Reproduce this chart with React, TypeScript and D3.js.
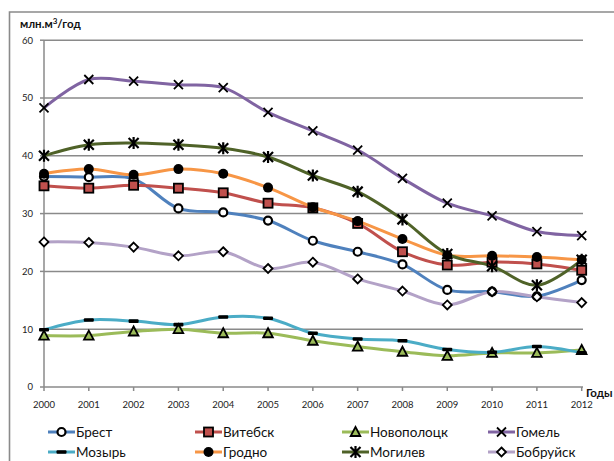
import React from "react";
import * as d3 from "d3";

const years = [2000, 2001, 2002, 2003, 2004, 2005, 2006, 2007, 2008, 2009, 2010, 2011, 2012];
const yTicks = [0, 10, 20, 30, 40, 50, 60];

const brest = [36.4, 36.3, 36.0, 30.9, 30.2, 28.8, 25.3, 23.4, 21.2, 16.8, 16.5, 15.7, 18.5];
const vitebsk = [34.8, 34.4, 34.9, 34.4, 33.6, 31.8, 31.0, 28.3, 23.4, 21.1, 21.6, 21.3, 20.2];
const novopolotsk = [8.9, 8.9, 9.6, 10.0, 9.3, 9.3, 8.0, 7.0, 6.1, 5.4, 5.9, 5.9, 6.4];
const gomel = [48.3, 53.2, 52.9, 52.3, 51.8, 47.5, 44.3, 41.0, 36.1, 31.8, 29.6, 26.9, 26.2];
const mozyr = [9.9, 11.6, 11.4, 10.8, 12.1, 11.9, 9.3, 8.3, 8.0, 6.5, 6.0, 7.0, 5.9];
const grodno = [36.9, 37.7, 36.7, 37.7, 36.9, 34.5, 31.1, 28.7, 25.6, 22.8, 22.7, 22.5, 22.0];
const mogilev = [40.0, 41.9, 42.2, 41.9, 41.3, 39.8, 36.6, 33.8, 29.0, 23.0, 20.9, 17.6, 22.0];
const bobruisk = [25.1, 25.0, 24.2, 22.7, 23.4, 20.5, 21.6, 18.7, 16.6, 14.2, 16.5, 15.6, 14.6];

type Marker = "circleOpen" | "square" | "triangle" | "x" | "dash" | "circle" | "star" | "diamond";

const series: { name: string; values: number[]; color: string; marker: Marker }[] = [
  { name: "Брест", values: brest, color: "#4F81BD", marker: "circleOpen" },
  { name: "Витебск", values: vitebsk, color: "#C0504D", marker: "square" },
  { name: "Новополоцк", values: novopolotsk, color: "#9BBB59", marker: "triangle" },
  { name: "Гомель", values: gomel, color: "#8064A2", marker: "x" },
  { name: "Мозырь", values: mozyr, color: "#4BACC6", marker: "dash" },
  { name: "Гродно", values: grodno, color: "#F79646", marker: "circle" },
  { name: "Могилев", values: mogilev, color: "#4F6228", marker: "star" },
  { name: "Бобруйск", values: bobruisk, color: "#B3A2C7", marker: "diamond" },
];

const FONT = "Lato, 'Open Sans', 'Liberation Sans', sans-serif";
const AXIS = "#8a8a8a";

const x = d3.scaleLinear().domain([2000, 2012]).range([44, 581.7]);
const y = d3.scaleLinear().domain([0, 60]).range([387, 40.2]);

function MarkerShape({ type, cx, cy, color }: { type: Marker; cx: number; cy: number; color: string }) {
  const k = "#000";
  switch (type) {
    case "circleOpen":
      return <circle cx={cx} cy={cy} r={4} fill="#fff" stroke={k} strokeWidth={2.2} />;
    case "circle":
      return <circle cx={cx} cy={cy} r={5} fill={k} />;
    case "square":
      return <rect x={cx - 4.5} y={cy - 4.5} width={9} height={9} fill={color} stroke={k} strokeWidth={1.8} />;
    case "triangle":
      return (
        <path
          d={`M${cx},${cy - 5} L${cx + 4.8},${cy + 4} L${cx - 4.8},${cy + 4} Z`}
          fill={color}
          stroke={k}
          strokeWidth={1.8}
        />
      );
    case "diamond":
      return (
        <path
          d={`M${cx},${cy - 4.5} L${cx + 4.5},${cy} L${cx},${cy + 4.5} L${cx - 4.5},${cy} Z`}
          fill="#fff"
          stroke={k}
          strokeWidth={1.8}
        />
      );
    case "x":
      return (
        <path
          d={`M${cx - 4.5},${cy - 4.5} L${cx + 4.5},${cy + 4.5} M${cx + 4.5},${cy - 4.5} L${cx - 4.5},${cy + 4.5}`}
          stroke={k}
          strokeWidth={1.8}
        />
      );
    case "star":
      return (
        <path
          d={`M${cx - 5},${cy - 5} L${cx + 5},${cy + 5} M${cx + 5},${cy - 5} L${cx - 5},${cy + 5} M${cx},${cy - 6} L${cx},${cy + 6}`}
          stroke={k}
          strokeWidth={2.2}
        />
      );
    case "dash":
      return <rect x={cx - 5} y={cy - 1.8} width={10} height={3.6} fill={k} rx={1} />;
  }
}

export default function App() {
  const line = d3
    .line<number>()
    .x((_, i) => x(years[i]))
    .y((v) => y(v))
    .curve(d3.curveCatmullRom.alpha(0.5));

  const legendCols = [48, 195, 342, 488];
  const legendRows = [432, 452];

  return (
    <svg
      width={614}
      height={461}
      style={{ position: "absolute", left: 0, top: 0, background: "#fff" }}
      fontFamily={FONT}
    >
      {/* chart frame */}
      <path d="M9.5,470 L9.5,12 L620,12" fill="none" stroke={AXIS} strokeWidth={1.6} />

      {/* gridlines */}
      {yTicks
        .filter((t) => t > 0)
        .map((t) => (
          <line key={t} x1={x(2000)} x2={583} y1={y(t)} y2={y(t)} stroke={AXIS} strokeWidth={1.5} />
        ))}

      {/* axes */}
      <line x1={x(2000)} x2={x(2000)} y1={y(60)} y2={y(0)} stroke={AXIS} strokeWidth={1.5} />
      <line x1={x(2000)} x2={583} y1={y(0)} y2={y(0)} stroke={AXIS} strokeWidth={1.5} />
      {yTicks.map((t) => (
        <g key={t}>
          <line x1={x(2000) - 4} x2={x(2000)} y1={y(t)} y2={y(t)} stroke={AXIS} strokeWidth={1.5} />
          <text x={33} y={y(t)} dy="0.35em" textAnchor="end" fontSize={9.5} fill="#222">
            {t}
          </text>
        </g>
      ))}
      {years.map((yr) => (
        <g key={yr}>
          <line x1={x(yr)} x2={x(yr)} y1={y(0)} y2={y(0) + 4} stroke={AXIS} strokeWidth={1.5} />
          <text x={x(yr)} y={405} dy="0.35em" textAnchor="middle" fontSize={9.5} fill="#222">
            {yr}
          </text>
        </g>
      ))}

      {/* axis titles */}
      <text x={20} y={28} fontSize={11.5} fontWeight="bold" fill="#111">
        млн.м<tspan dy={-4} fontSize={8}>3</tspan>
        <tspan dy={4}>/год</tspan>
      </text>
      <text x={586} y={393} dy="0.35em" fontSize={11.5} fontWeight="bold" fill="#111">
        Годы
      </text>

      {/* series lines */}
      {series.map((s) => (
        <path key={s.name} d={line(s.values) || ""} fill="none" stroke={s.color} strokeWidth={3} strokeLinejoin="round" />
      ))}

      {/* series markers */}
      {series.map((s) => (
        <g key={s.name + "-m"}>
          {s.values.map((v, i) => (
            <MarkerShape key={i} type={s.marker} cx={x(years[i])} cy={y(v)} color={s.color} />
          ))}
        </g>
      ))}

      {/* legend */}
      {series.map((s, i) => {
        const lx = legendCols[i % 4];
        const ly = legendRows[Math.floor(i / 4)];
        return (
          <g key={s.name + "-l"}>
            <line x1={lx} x2={lx + 27} y1={ly} y2={ly} stroke={s.color} strokeWidth={3} />
            <MarkerShape type={s.marker} cx={lx + 13.5} cy={ly} color={s.color} />
            <text x={lx + 28} y={ly} dy="0.35em" fontSize={13.5} fill="#111">
              {s.name}
            </text>
          </g>
        );
      })}
    </svg>
  );
}
